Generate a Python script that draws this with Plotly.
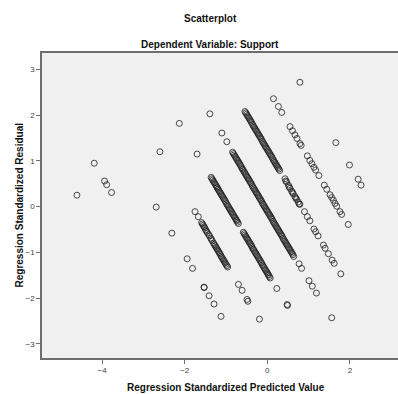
import plotly.graph_objects as go

# Regression Standardized Predicted Value (x) and Residual (y)
pred = [
    -4.61,
    -4.19, -3.94, -3.89, -3.77,
    -2.69, -2.31, -1.94, -1.81, -1.53, -1.53, -1.41, -1.29, -1.12,
    -2.60, -1.75, -1.67, -1.59, -1.55, -1.51, -1.47, -1.42, -1.37, -1.33, -1.28,
    -1.24, -1.20, -1.16, -1.12, -1.08, -1.04, -1.00, -0.96,
    -0.70, -0.61, -0.49, -0.47, -0.19,
    -2.13, -1.70,
    -1.36, -1.32, -1.28, -1.24, -1.21, -1.17, -1.13, -1.09, -1.05, -1.01, -0.97,
    -0.93, -0.89, -0.85, -0.81, -0.77, -0.74, -0.70,
    -0.58, -0.54, -0.50, -0.46, -0.42, -0.38, -0.34, -0.30, -0.26, -0.22, -0.18,
    -0.14, -0.10, -0.06, -0.02, 0.02, 0.05, 0.07,
    0.23, 0.48, 0.49,
    -1.39, -1.10, -0.98,
    -0.84, -0.80, -0.76, -0.72, -0.68, -0.64, -0.60, -0.56, -0.52, -0.48, -0.44,
    -0.40, -0.36, -0.32, -0.28, -0.24, -0.20, -0.16, -0.12, -0.08, -0.04, 0.00,
    0.04, 0.08, 0.12, 0.16, 0.20, 0.24, 0.28, 0.32, 0.36, 0.40, 0.44, 0.48,
    0.52, 0.56, 0.60, 0.64,
    0.77, 0.83, 1.01, 1.09, 1.19, 1.56,
    -0.54, -0.50, -0.46, -0.42, -0.38, -0.34, -0.30, -0.26, -0.22, -0.18, -0.14,
    -0.10, -0.06, -0.02, 0.02, 0.06, 0.10, 0.14, 0.18, 0.22, 0.26, 0.30,
    0.43, 0.47, 0.51, 0.55, 0.59, 0.63, 0.67, 0.71, 0.75, 0.79,
    0.90, 0.97, 1.03, 1.13, 1.17, 1.23, 1.36, 1.40, 1.48, 1.57, 1.62, 1.78,
    0.15, 0.27, 0.35,
    0.55, 0.61, 0.67, 0.72, 0.79, 0.82,
    0.97, 1.03, 1.08, 1.13, 1.17, 1.25, 1.38, 1.44,
    1.52, 1.56, 1.60, 1.64, 1.68, 1.76, 1.80, 1.96,
    0.79, 1.66, 1.99, 2.20, 2.27,
]
resid = [
    0.25,
    0.95, 0.56, 0.48, 0.31,
    -0.01, -0.58, -1.14, -1.35, -1.76, -1.77, -1.95, -2.13, -2.40,
    1.20, -0.11, -0.22, -0.35, -0.41, -0.47, -0.54, -0.61, -0.69, -0.75, -0.83,
    -0.89, -0.95, -1.01, -1.08, -1.14, -1.20, -1.26, -1.32,
    -1.70, -1.83, -2.03, -2.07, -2.46,
    1.82, 1.15,
    0.64, 0.58, 0.52, 0.46, 0.41, 0.35, 0.29, 0.23, 0.17, 0.11, 0.04,
    -0.02, -0.08, -0.14, -0.20, -0.26, -0.31, -0.37,
    -0.56, -0.62, -0.68, -0.74, -0.80, -0.86, -0.93, -0.99, -1.05, -1.11, -1.17,
    -1.23, -1.30, -1.36, -1.42, -1.48, -1.53, -1.56,
    -1.79, -2.14, -2.16,
    2.03, 1.61, 1.42,
    1.19, 1.13, 1.07, 1.01, 0.95, 0.89, 0.82, 0.76, 0.70, 0.64, 0.58,
    0.52, 0.45, 0.39, 0.33, 0.27, 0.21, 0.15, 0.08, 0.02, -0.04, -0.10,
    -0.16, -0.22, -0.28, -0.35, -0.41, -0.47, -0.53, -0.59, -0.65, -0.72, -0.78, -0.84,
    -0.90, -0.96, -1.02, -1.09,
    -1.25, -1.35, -1.62, -1.74, -1.89, -2.43,
    2.08, 2.02, 1.96, 1.90, 1.84, 1.77, 1.71, 1.65, 1.59, 1.53, 1.47,
    1.40, 1.34, 1.28, 1.22, 1.16, 1.10, 1.03, 0.97, 0.91, 0.85, 0.79,
    0.61, 0.54, 0.47, 0.40, 0.34, 0.28, 0.22, 0.16, 0.10, 0.05,
    -0.11, -0.22, -0.31, -0.49, -0.55, -0.64, -0.84, -0.91, -1.03, -1.17, -1.24, -1.47,
    2.36, 2.19, 2.06,
    1.75, 1.66, 1.57, 1.49, 1.38, 1.34,
    1.11, 1.01, 0.94, 0.86, 0.80, 0.68, 0.47, 0.38,
    0.26, 0.20, 0.14, 0.07, 0.01, -0.11, -0.17, -0.39,
    2.72, 1.40, 0.91, 0.60, 0.47,
]

# additional overlapping cases inside the dense diagonal bands
pred_dense = [
    -1.57, -1.53, -1.49, -1.45, -1.40, -1.35, -1.30, -1.26, -1.22, -1.18, -1.14,
    -1.10, -1.06, -1.02, -0.98,
    -1.34, -1.30, -1.26, -1.22, -1.19, -1.15, -1.11, -1.07, -1.03, -0.99, -0.95,
    -0.91, -0.87, -0.83, -0.79, -0.75, -0.72,
    -0.56, -0.52, -0.48, -0.44, -0.40, -0.36, -0.32, -0.28, -0.24, -0.20, -0.16,
    -0.12, -0.08, -0.04, 0.00, 0.03,
    -0.82, -0.78, -0.74, -0.70, -0.66, -0.62, -0.58, -0.54, -0.50, -0.46, -0.42,
    -0.38, -0.34, -0.30, -0.26, -0.22, -0.18, -0.14, -0.10, -0.06, -0.02, 0.02,
    0.06, 0.10, 0.14, 0.18, 0.22, 0.26, 0.30, 0.34, 0.38, 0.42, 0.46, 0.50,
    0.54, 0.58, 0.62,
    -0.52, -0.48, -0.44, -0.40, -0.36, -0.32, -0.28, -0.24, -0.20, -0.16, -0.12,
    -0.08, -0.04, 0.00, 0.04, 0.08, 0.12, 0.16, 0.20, 0.24, 0.28,
    0.45, 0.53, 0.61, 0.69, 0.77,
]
resid_dense = [
    -0.38, -0.44, -0.51, -0.57, -0.64, -0.72, -0.80, -0.86, -0.92, -0.98, -1.04,
    -1.11, -1.17, -1.23, -1.29,
    0.61, 0.55, 0.49, 0.43, 0.38, 0.32, 0.26, 0.20, 0.14, 0.07, 0.01,
    -0.05, -0.11, -0.17, -0.23, -0.29, -0.34,
    -0.59, -0.65, -0.71, -0.77, -0.83, -0.90, -0.96, -1.02, -1.08, -1.14, -1.20,
    -1.27, -1.33, -1.39, -1.45, -1.50,
    1.16, 1.10, 1.04, 0.98, 0.92, 0.85, 0.79, 0.73, 0.67, 0.61, 0.55,
    0.49, 0.42, 0.36, 0.30, 0.24, 0.18, 0.12, 0.05, -0.01, -0.07, -0.13,
    -0.19, -0.25, -0.32, -0.38, -0.44, -0.50, -0.56, -0.62, -0.69, -0.75, -0.81, -0.87,
    -0.93, -0.99, -1.05,
    2.05, 1.99, 1.93, 1.87, 1.80, 1.74, 1.68, 1.62, 1.56, 1.50, 1.43,
    1.37, 1.31, 1.25, 1.19, 1.13, 1.07, 1.00, 0.94, 0.88, 0.82,
    0.56, 0.43, 0.31, 0.19, 0.06,
]

x_ticks = [-4, -2, 0, 2]
y_ticks = [-3, -2, -1, 0, 1, 2, 3]

FONT = "Liberation Sans, Arial, sans-serif"

fig = go.Figure()
fig.add_trace(go.Scatter(
    x=pred + pred_dense, y=resid + resid_dense, mode="markers",
    marker=dict(symbol="circle-open", size=6,
                line=dict(color="rgba(30,30,30,0.8)", width=1),
                color="rgba(30,30,30,0.8)"),
    hoverinfo="skip", showlegend=False,
))

axis_common = dict(
    showgrid=False, zeroline=False, showline=True,
    linecolor="#6e6e6e", linewidth=1.5,
    ticks="outside", ticklen=4, tickwidth=1, tickcolor="#6e6e6e",
    tickfont=dict(family=FONT, size=8, color="#404040"),
)

fig.update_layout(
    width=398, height=394,
    margin=dict(l=42, r=0, t=53, b=36),
    paper_bgcolor="white", plot_bgcolor="#f0f0f0",
    font=dict(family=FONT),
    xaxis=dict(range=[-5.455, 3.165], tickvals=x_ticks, mirror=True, **axis_common),
    yaxis=dict(range=[-3.31, 3.36], tickvals=y_ticks, **axis_common),
    annotations=[
        dict(text="<b>Scatterplot</b>", xref="paper", yref="paper",
             x=0.472, y=1.1115, showarrow=False, xanchor="center", yanchor="middle",
             font=dict(family=FONT, size=10, color="#111")),
        dict(text="<b>Dependent Variable: Support</b>", xref="paper", yref="paper",
             x=0.472, y=1.0295, showarrow=False, xanchor="center", yanchor="middle",
             font=dict(family=FONT, size=10, color="#111")),
        dict(text="<b>Regression Standardized Predicted Value</b>", xref="paper", yref="paper",
             x=0.5155, y=-0.098, showarrow=False, xanchor="center", yanchor="middle",
             font=dict(family=FONT, size=10, color="#111")),
        dict(text="<b>Regression Standardized Residual</b>", xref="paper", yref="paper",
             x=-0.0646, y=0.5, showarrow=False, xanchor="center", yanchor="middle",
             textangle=-90,
             font=dict(family=FONT, size=10, color="#111")),
    ],
)

fig.write_html("out.html")
